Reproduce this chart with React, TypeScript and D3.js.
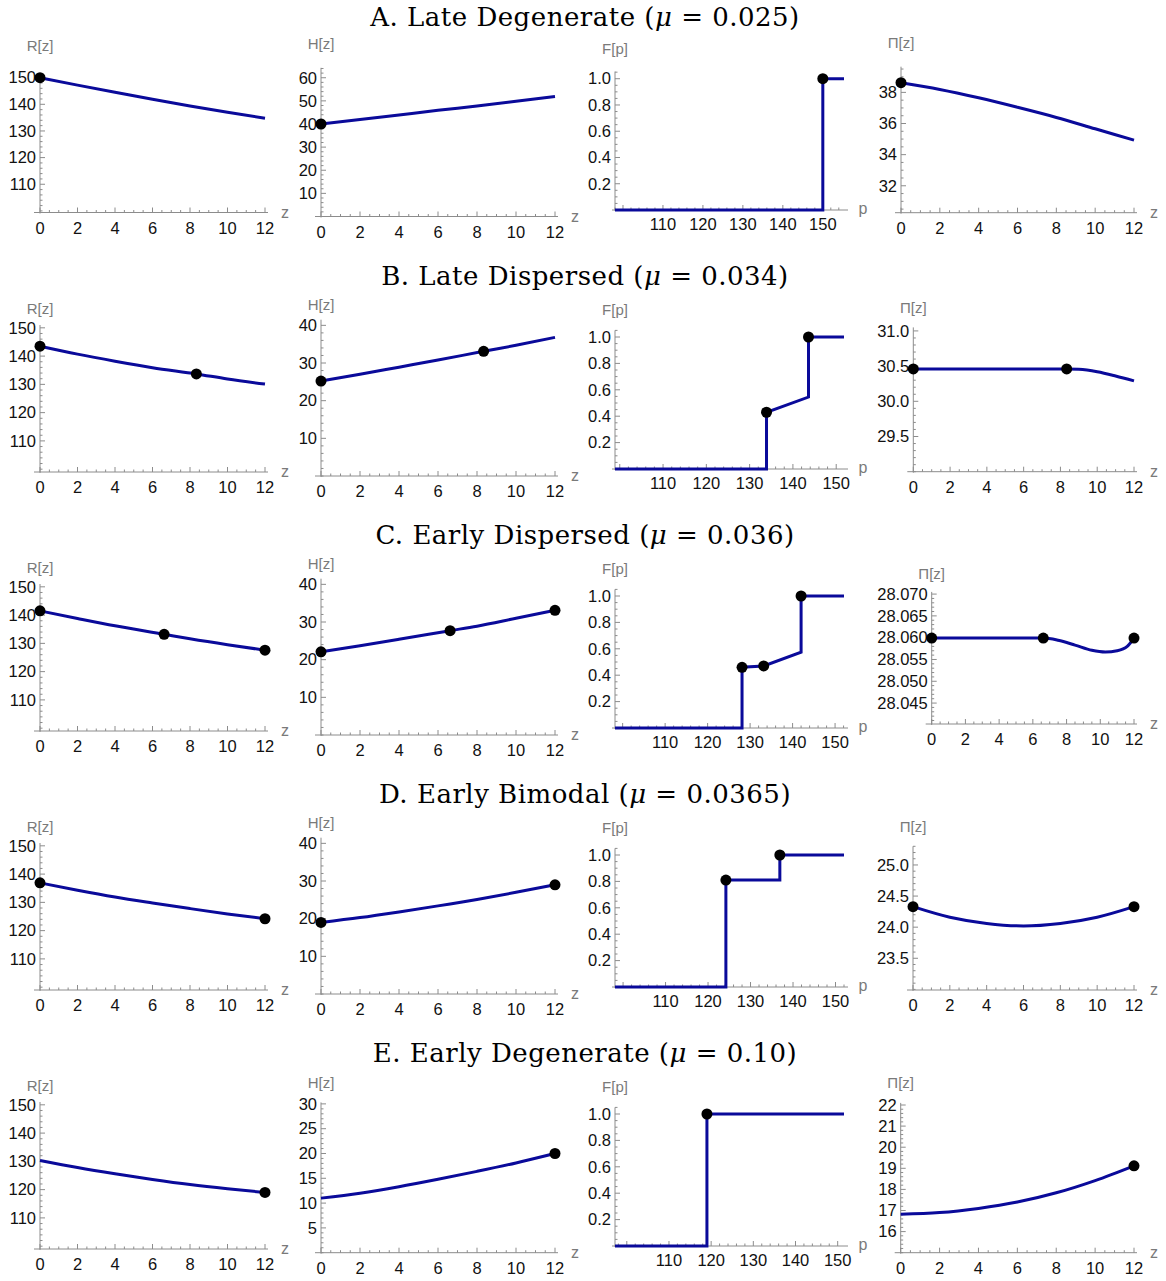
import React from "react";
import * as d3 from "d3";

// ---------------- data ----------------
const TITLES = ["A. Late Degenerate", "B. Late Dispersed", "C. Early Dispersed", "D. Early Bimodal", "E. Early Degenerate"];
const MUS = ["0.025", "0.034", "0.036", "0.0365", "0.10"];

const Z_GRID = [0, 2, 4, 6, 8, 10, 12];

// Row A
const R_A = [150, 147.2, 144.5, 141.9, 139.4, 137.0, 134.8];
const H_A = [40, 41.9, 43.9, 45.9, 47.8, 49.8, 51.9];
const PI_A = [38.62, 38.19, 37.65, 37.04, 36.39, 35.66, 34.93];
const FP_A = [98, 150, 150, 155.3];
const FV_A = [0, 0, 1, 1];

// Row B
const Z_B = [0, 2, 4, 6, 8.34, 10, 12];
const R_B = [143.5, 140.7, 138.2, 135.9, 133.7, 131.9, 130.1];
const H_B = [25.2, 27.0, 28.9, 30.8, 33.1, 34.7, 36.8];
const Z_PI_B = [0, 8.34, 9, 10, 11, 12];
const PI_B = [30.46, 30.46, 30.455, 30.42, 30.36, 30.29];
const FP_B = [98.9, 133.9, 133.9, 143.6, 143.6, 151.8];
const FV_B = [0, 0, 0.43, 0.545, 1, 1];

// Row C
const Z_C = [0, 2, 4, 6.62, 8, 10, 12];
const R_C = [141.5, 138.8, 136.2, 133.2, 131.6, 129.5, 127.6];
const H_C = [22.1, 23.7, 25.4, 27.7, 28.9, 31.0, 33.1];
const Z_PI_C = [0, 6.62, 7.5, 8.5, 9.5, 10.3, 11, 11.6, 12];
const PI_C = [28.0599, 28.0599, 28.0594, 28.0583, 28.0571, 28.0567, 28.0570, 28.0580, 28.0599];
const FP_C = [98.2, 128.1, 128.1, 133.2, 142.0, 142.0, 152.1];
const FV_C = [0, 0, 0.46, 0.47, 0.575, 1, 1];

// Row D
const R_D = [136.9, 134.3, 131.9, 129.8, 127.8, 125.9, 124.2];
const H_D = [19.0, 20.3, 21.8, 23.4, 25.1, 27.0, 29.0];
const PI_D = [24.33, 24.16, 24.06, 24.02, 24.06, 24.16, 24.33];
const FP_D = [98.1, 124.2, 124.2, 136.9, 136.9, 152.0];
const FV_D = [0, 0, 0.81, 0.81, 1, 1];

// Row E
const R_E = [130.3, 127.8, 125.6, 123.6, 121.8, 120.3, 119.0];
const H_E = [11.0, 12.0, 13.3, 14.8, 16.4, 18.1, 20.0];
const PI_E = [16.82, 16.90, 17.10, 17.40, 17.84, 18.42, 19.12];
const FP_E = [97.2, 119.0, 119.0, 151.5];
const FV_E = [0, 0, 1, 1];

// tick values
const Z_TICKS = [0, 2, 4, 6, 8, 10, 12];
const P_TICKS = [100, 110, 120, 130, 140, 150];
const R_TICKS = [110, 120, 130, 140, 150];
const H_TICKS_A = [10, 20, 30, 40, 50, 60];
const H_TICKS = [10, 20, 30, 40];
const H_TICKS_E = [5, 10, 15, 20, 25, 30];
const F_TICKS = [0.2, 0.4, 0.6, 0.8, 1.0];
const PI_TICKS_A = [32, 34, 36, 38];
const PI_TICKS_B = [29.5, 30.0, 30.5, 31.0];
const PI_TICKS_C = [28.045, 28.05, 28.055, 28.06, 28.065, 28.07];
const PI_TICKS_D = [23.5, 24.0, 24.5, 25.0];
const PI_TICKS_E = [16, 17, 18, 19, 20, 21, 22];

// ---------------- layout / style ----------------
const W = 1166;
const HGT = 1281;
const LINE = "#0a0a9a";
const AXIS = "#8c8c8c";
const LABEL = "#7a7a7a";
const SANS = "'Liberation Sans', Arial, Helvetica, sans-serif";
const SERIF = "'DejaVu Serif', 'Liberation Serif', serif";
const TITLE_Y = [26, 285, 544, 803, 1062];

type Cfg = {
  kind: "z" | "p";
  x0: number; x1: number; yb: number; yt: number;
  xd: [number, number]; yd: [number, number];
  labY: number; yLabel: string;
  xs: number[]; ys: number[]; dots: number[]; smooth: boolean;
  yMajor: number[]; yMinor: number; yFmt: string;
};

function zPanel(x0: number, x1: number, yb: number, yt: number, yd: [number, number], labY: number,
  yLabel: string, xs: number[], ys: number[], dots: number[], yMajor: number[], yMinor: number, yFmt = "d"): Cfg {
  return { kind: "z", x0, x1, yb, yt, xd: [0, 12], yd, labY, yLabel, xs, ys, dots, smooth: true, yMajor, yMinor, yFmt };
}
function fPanel(yb: number, yt: number, xd: [number, number], labY: number, xs: number[], ys: number[], dots: number[]): Cfg {
  return { kind: "p", x0: 615, x1: 844, yb, yt, xd, yd: [0, 1.05], labY, yLabel: "F[p]", xs, ys, dots, smooth: false, yMajor: F_TICKS, yMinor: 0.05, yFmt: ".1f" };
}

const PANELS: Cfg[] = [
  // Row A
  zPanel(40, 265, 212.5, 75, [99.4, 151], 51, "R[z]", Z_GRID, R_A, [0], R_TICKS, 2),
  zPanel(321, 555, 216.5, 67.8, [0, 64.3], 49, "H[z]", Z_GRID, H_A, [0], H_TICKS_A, 2),
  { ...fPanel(210, 71.5, [98, 155.3], 54, FP_A, FV_A, [2]), yd: [0, 1.055] },
  zPanel(901, 1134, 212.7, 66.7, [30.27, 39.65], 48, "\u03A0[z]", Z_GRID, PI_A, [0], PI_TICKS_A, 0.5),
  // Row B
  zPanel(40, 265, 472, 325, [99, 151], 314, "R[z]", Z_B, R_B, [0, 4], R_TICKS, 2),
  zPanel(321, 555, 476, 319.7, [0, 41.5], 310, "H[z]", Z_B, H_B, [0, 4], H_TICKS, 2),
  fPanel(469, 330.4, [98.9, 151.8], 315, FP_B, FV_B, [2, 4]),
  zPanel(913.3, 1134, 471.7, 327.4, [29.0, 31.05], 313, "\u03A0[z]", Z_PI_B, PI_B, [0, 1], PI_TICKS_B, 0.1, ".1f"),
  // Row C
  zPanel(40, 265, 731, 584, [99, 151], 573, "R[z]", Z_C, R_C, [0, 3, 6], R_TICKS, 2),
  zPanel(321, 555, 735, 578.7, [0, 41.5], 569, "H[z]", Z_C, H_C, [0, 3, 6], H_TICKS, 2),
  fPanel(728, 589.4, [98.2, 152.1], 574, FP_C, FV_C, [2, 3, 5]),
  zPanel(931.7, 1134, 724, 591.9, [28.0402, 28.0705], 579, "\u03A0[z]", Z_PI_C, PI_C, [0, 1, 8], PI_TICKS_C, 0.001, ".3f"),
  // Row D
  zPanel(40, 265, 990, 843, [99, 151], 832, "R[z]", Z_GRID, R_D, [0, 6], R_TICKS, 2),
  zPanel(321, 555, 994, 837.7, [0, 41.5], 828, "H[z]", Z_GRID, H_D, [0, 6], H_TICKS, 2),
  fPanel(987, 848.4, [98.1, 152.0], 833, FP_D, FV_D, [2, 4]),
  zPanel(913, 1134, 990, 846.3, [22.99, 25.3], 832, "\u03A0[z]", Z_GRID, PI_D, [0, 6], PI_TICKS_D, 0.1, ".1f"),
  // Row E
  zPanel(40, 265, 1249, 1102, [99, 151], 1091, "R[z]", Z_GRID, R_E, [6], R_TICKS, 2),
  zPanel(321, 555, 1252.7, 1102.4, [0, 30.3], 1088, "H[z]", Z_GRID, H_E, [6], H_TICKS_E, 1),
  fPanel(1246, 1107.4, [97.2, 151.5], 1092, FP_E, FV_E, [2]),
  zPanel(900.7, 1134, 1252.7, 1102.9, [15, 22.1], 1088, "\u03A0[z]", Z_GRID, PI_E, [6], PI_TICKS_E, 0.2),
];

function minorTicks(lo: number, hi: number, step: number, majors: number[]): number[] {
  const out: number[] = [];
  const start = Math.ceil(lo / step - 1e-6);
  const end = Math.floor(hi / step + 1e-6);
  for (let k = start; k <= end; k++) {
    const v = k * step;
    if (!majors.some((m) => Math.abs(m - v) < step * 0.01)) out.push(v);
  }
  return out;
}

function Panel({ c }: { c: Cfg }) {
  const x = d3.scaleLinear().domain(c.xd).range([c.x0, c.x1]);
  const y = d3.scaleLinear().domain(c.yd).range([c.yb, c.yt]);
  const pts: [number, number][] = c.xs.map((v, i) => [v, c.ys[i]]);
  const line = d3
    .line<[number, number]>()
    .x((d) => x(d[0]))
    .y((d) => y(d[1]))
    .curve(c.smooth ? d3.curveMonotoneX : d3.curveLinear);

  const isZ = c.kind === "z";
  const xMajor = isZ ? Z_TICKS : P_TICKS;
  const xMinorStep = isZ ? 0.5 : 2;
  const xMin = minorTicks(c.xd[0], c.xd[1], xMinorStep, xMajor);
  const yMin = minorTicks(c.yd[0], c.yd[1], c.yMinor, c.yMajor);
  const fmtY = d3.format(c.yFmt);
  const axL = isZ ? c.x0 - 6 : c.x0 - 3;
  const axR = isZ ? c.x1 + 3 : c.x1 + 4;
  const axisX = isZ ? x(0) : c.x0;

  return (
    <g>
      <line x1={axL} x2={axR} y1={c.yb} y2={c.yb} stroke={AXIS} strokeWidth={1} />
      <line x1={axisX} x2={axisX} y1={c.yb + 1} y2={c.yt} stroke={AXIS} strokeWidth={1} />
      {xMajor.map((v) => (
        <line key={"xM" + v} x1={x(v)} x2={x(v)} y1={c.yb} y2={c.yb - 5} stroke={AXIS} />
      ))}
      {xMin.map((v) => (
        <line key={"xm" + v} x1={x(v)} x2={x(v)} y1={c.yb} y2={c.yb - 2.5} stroke={AXIS} />
      ))}
      {xMajor
        .filter((v) => isZ || v !== 100)
        .map((v) => (
          <text key={"xl" + v} x={x(v)} y={c.yb + (isZ ? 21 : 20)} textAnchor="middle" fontSize={16.5} fontFamily={SANS} fill="#111">
            {v}
          </text>
        ))}
      {c.yMajor.map((v) => (
        <line key={"yM" + v} x1={axisX} x2={axisX + 5} y1={y(v)} y2={y(v)} stroke={AXIS} />
      ))}
      {yMin.map((v) => (
        <line key={"ym" + v} x1={axisX} x2={axisX + 2.5} y1={y(v)} y2={y(v)} stroke={AXIS} />
      ))}
      {c.yMajor.map((v) => (
        <text key={"yl" + v} x={axisX - 4} y={y(v)} dy="0.35em" textAnchor="end" fontSize={16.5} fontFamily={SANS} fill="#111">
          {c.yFmt === "d" ? String(v) : fmtY(v)}
        </text>
      ))}
      <text x={axisX} y={c.labY} textAnchor="middle" fontSize={15} fontFamily={SANS} fill={LABEL}>
        {c.yLabel}
      </text>
      <text x={c.x1 + (isZ ? 20 : 19)} y={c.yb + (isZ ? 5 : 3.5)} textAnchor="middle" fontSize={16} fontFamily={SANS} fill={LABEL}>
        {isZ ? "z" : "p"}
      </text>
      <path d={line(pts) || ""} fill="none" stroke={LINE} strokeWidth={3} strokeLinejoin="miter" />
      {c.dots.map((i) => (
        <circle key={"d" + i} cx={x(c.xs[i])} cy={y(c.ys[i])} r={5.5} fill="#000" />
      ))}
    </g>
  );
}

export default function App() {
  return (
    <div style={{ position: "absolute", left: 0, top: 0 }}>
      <svg width={W} height={HGT} style={{ display: "block", background: "#fff" }}>
        {TITLES.map((t, i) => (
          <text
            key={t}
            x={585}
            y={TITLE_Y[i]}
            textAnchor="middle"
            fontSize={26}
            fontFamily={SERIF}
            fill="#000"
            letterSpacing={0.5}
            style={{ whiteSpace: "pre" }}
          >
            {t + " ("}
            <tspan fontStyle="italic">{"\u03BC"}</tspan>
            {" = " + MUS[i] + ")"}
          </text>
        ))}
        {PANELS.map((c, i) => (
          <Panel key={i} c={c} />
        ))}
      </svg>
    </div>
  );
}
